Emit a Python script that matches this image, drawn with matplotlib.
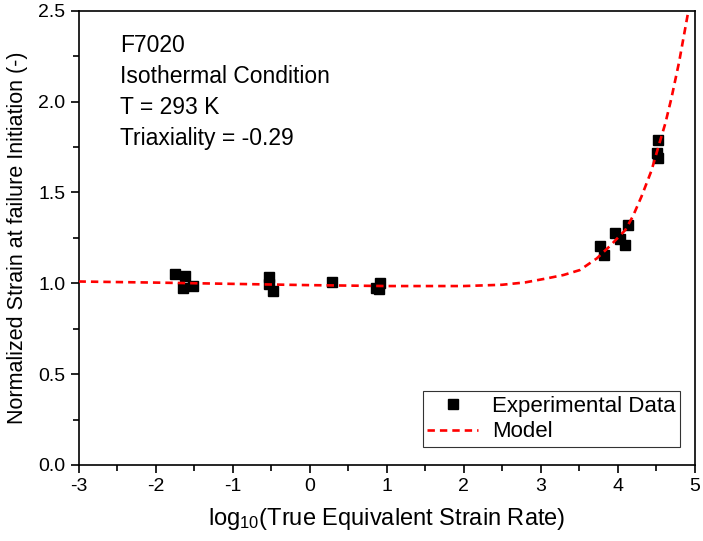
import matplotlib
matplotlib.use("Agg")
import matplotlib.pyplot as plt
from matplotlib.ticker import MultipleLocator, FormatStrFormatter

plt.rcParams["font.family"] = ["Liberation Sans", "DejaVu Sans"]
plt.rcParams["mathtext.default"] = "regular"
plt.rcParams["axes.unicode_minus"] = False

# experimental points: log10(strain rate), normalized failure strain
exp_x = [-1.75, -1.62, -1.64, -1.51, -0.52, -0.52, -0.47, 0.29, 0.86, 0.92, 0.90,
         3.77, 3.83, 3.97, 4.03, 4.10, 4.14, 4.52, 4.51, 4.53]
exp_y = [1.051, 1.040, 0.974, 0.985, 1.035, 0.995, 0.955, 1.005, 0.975, 1.000, 0.970,
         1.205, 1.156, 1.275, 1.244, 1.212, 1.319, 1.790, 1.720, 1.688]

# model curve
model_x = [-3.0, -2.0, -1.0, 0.0, 1.0, 2.0, 2.5, 2.8, 3.08, 3.3, 3.51, 3.73, 3.9,
           4.10, 4.2, 4.31, 4.44, 4.55, 4.62, 4.7, 4.8, 4.92]
model_y = [1.010, 1.004, 0.997, 0.990, 0.985, 0.985, 0.992, 1.005, 1.027, 1.046, 1.073,
           1.137, 1.205, 1.293, 1.370, 1.477, 1.620, 1.780, 1.880, 2.020, 2.220, 2.500]

fig = plt.figure(figsize=(7.03, 5.41), dpi=100)
ax = fig.add_axes([0.1117, 0.1405, 0.8763, 0.8395])

ax.plot(exp_x, exp_y, "s", color="black", ms=7, label="Experimental Data", zorder=3)
ax.plot(model_x, model_y, color="red", lw=1.9, dashes=(2.8, 1.9), label="Model", zorder=4)

ax.set_xlim(-3, 5)
ax.set_ylim(0, 2.5)
ax.xaxis.set_major_locator(MultipleLocator(1))
ax.xaxis.set_minor_locator(MultipleLocator(0.5))
ax.yaxis.set_major_locator(MultipleLocator(0.5))
ax.yaxis.set_minor_locator(MultipleLocator(0.25))
ax.yaxis.set_major_formatter(FormatStrFormatter("%.1f"))
ax.tick_params(which="major", direction="out", length=6, width=1.2, labelsize=14)
ax.tick_params(which="minor", direction="out", length=4, width=1.2)
for s in ax.spines.values():
    s.set_linewidth(1.2)

ax.set_xlabel("log$_{10}$(True Equivalent Strain Rate)", fontsize=17, labelpad=8)
ax.set_ylabel("Normalized Strain at failure Initiation (-)", fontsize=15.5, labelpad=7)

ax.text(0.068, 0.948, "F7020\nIsothermal Condition\nT = 293 K\nTriaxiality = -0.29",
        transform=ax.transAxes, fontsize=16.5, va="top", ha="left", linespacing=1.44)

leg = ax.legend(loc="lower right", fontsize=16, frameon=True, fancybox=False,
                edgecolor="black", handlelength=2.3, handletextpad=0.6, borderpad=0.2,
                labelspacing=0.2, borderaxespad=0, bbox_to_anchor=(0.976, 0.04))
leg.get_frame().set_linewidth(0.8)

fig.savefig("out.png", dpi=100)
